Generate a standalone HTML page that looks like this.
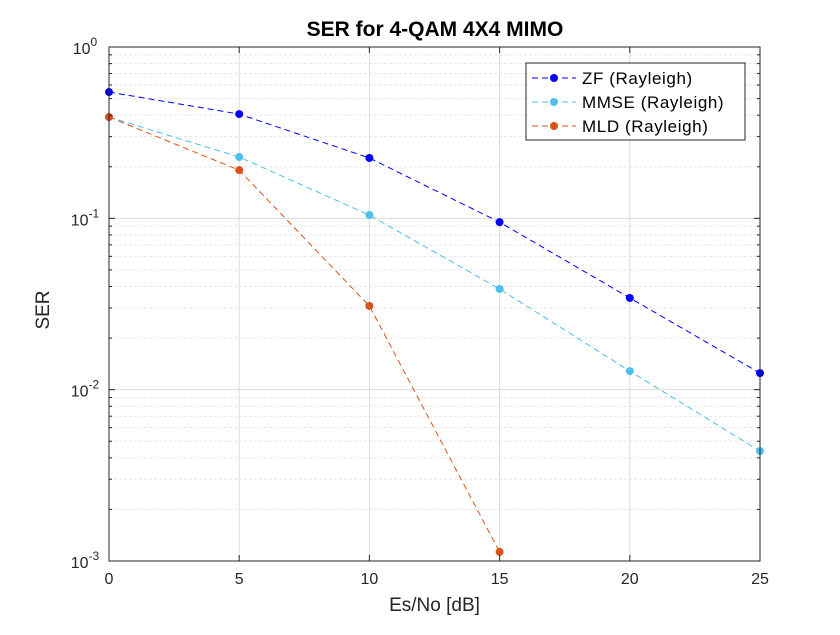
<!DOCTYPE html>
<html><head><meta charset="utf-8"><style>
body{margin:0;background:#fff;}
svg{font-family:"Liberation Sans",Arial,sans-serif;}
</style></head><body>
<svg id="chart" width="840" height="630" xmlns="http://www.w3.org/2000/svg">
<rect width="840" height="630" fill="#fff"/>
<g id="grid"></g>
<g id="series"></g>
<g id="axes"></g>
</svg>
<script>
const xValues=[0,5,10,15,20,25];
const zfValues=[0.546,0.406,0.225,0.095,0.0343,0.0125];
const mmseValues=[0.39,0.228,0.1045,0.0387,0.01284,0.00438];
const mldValues=[0.39,0.191,0.0308,0.00113];
const xTicks=[0,5,10,15,20,25];
const yDecades=[0,-1,-2,-3];
const seriesNames=["ZF (Rayleigh)","MMSE (Rayleigh)","MLD (Rayleigh)"];
const L=109,R=760,T=47,B=561;
const NS="http://www.w3.org/2000/svg";
function X(v){return L+(v-0)/(25-0)*(R-L);}
function Y(v){return T+(0-Math.log10(v))/3*(B-T);}
function mk(tag,attrs,parent,text){const e=document.createElementNS(NS,tag);for(const k in attrs)e.setAttribute(k,attrs[k]);if(text!==undefined)e.textContent=text;parent.appendChild(e);return e;}
const grid=document.getElementById('grid'),ser=document.getElementById('series'),ax=document.getElementById('axes');
mk('rect',{x:L,y:T,width:R-L,height:B-T,fill:'#fff'},grid);
for(let d=-3;d<0;d++){for(let m=2;m<=9;m++){const y=Y(m*Math.pow(10,d));const g=mk('line',{x1:L,x2:R,y1:y,y2:y,stroke:'#e6e6e6','stroke-dasharray':'3,2','stroke-width':1},grid);

}}
yDecades.forEach(d=>{const y=Y(Math.pow(10,d));const g=mk('line',{x1:L,x2:R,y1:y,y2:y,stroke:'#dcdcdc','stroke-width':1},grid);

});
xTicks.forEach(t=>{const x=X(t);const g=mk('line',{x1:x,x2:x,y1:T,y2:B,stroke:'#dcdcdc','stroke-width':1},grid);

});
function drawSeries(vals,color,name){const pts=vals.map((v,i)=>X(xValues[i])+','+Y(v)).join(' ');
const pl=mk('polyline',{points:pts,fill:'none',stroke:color,'stroke-width':1,'stroke-dasharray':'6,4'},ser);


vals.forEach((v,i)=>{const c=mk('circle',{cx:X(xValues[i]),cy:Y(v),r:4,fill:color},ser);

});}
drawSeries(zfValues,'#0000ff','zf');
drawSeries(mmseValues,'#4dbeee','mmse');
drawSeries(mldValues,'#d95319','mld');
const box=mk('rect',{x:L,y:T,width:R-L,height:B-T,fill:'none',stroke:'#262626','stroke-width':1},ax);


xTicks.forEach(t=>{const x=X(t);mk('line',{x1:x,x2:x,y1:B,y2:B-6,stroke:'#262626'},ax);mk('line',{x1:x,x2:x,y1:T,y2:T+6,stroke:'#262626'},ax);
const tx=mk('text',{x:x,y:B+23,'text-anchor':'middle','font-size':16,fill:'#262626'},ax,String(t));

});
yDecades.forEach(d=>{const y=Y(Math.pow(10,d));mk('line',{x1:L,x2:L+6,y1:y,y2:y,stroke:'#262626'},ax);mk('line',{x1:R,x2:R-6,y1:y,y2:y,stroke:'#262626'},ax);
const tx=mk('text',{x:L-24,y:y+7,'text-anchor':'middle','font-size':16,fill:'#262626'},ax);


mk('tspan',{},tx,'10');mk('tspan',{dy:-8,'font-size':12},tx,String(d));});
for(let d=-3;d<0;d++){for(let m=2;m<=9;m++){const y=Y(m*Math.pow(10,d));mk('line',{x1:L,x2:L+3,y1:y,y2:y,stroke:'#262626'},ax);mk('line',{x1:R,x2:R-3,y1:y,y2:y,stroke:'#262626'},ax);}}
const legend=mk('g',{},ax);


mk('rect',{x:526,y:63,width:219,height:77,fill:'#fff',stroke:'#262626'},legend);
const lc=['#0000ff','#4dbeee','#d95319'];
seriesNames.forEach((n,i)=>{const y=78+i*24;mk('line',{x1:532,x2:576,y1:y,y2:y,stroke:lc[i],'stroke-dasharray':'6,4'},legend);mk('circle',{cx:554,cy:y,r:4,fill:lc[i]},legend);
const t=mk('text',{x:582,y:y+6,'font-size':17,'letter-spacing':'0.6',fill:'#000'},legend,n);

});
</script>
<div style="position:absolute;left:0;top:0;width:840px;pointer-events:none">
<div style="position:absolute;left:0;width:870px;top:18px;text-align:center;font:bold 21px 'Liberation Sans',sans-serif;color:#000">SER for 4-QAM 4X4 MIMO</div>
<div style="position:absolute;left:109px;width:651px;top:595px;text-align:center;font:19px 'Liberation Sans',sans-serif;color:#262626">Es/No [dB]</div>
<div style="position:absolute;left:20px;top:310px;transform:translate(-50%,-50%) rotate(-90deg);transform-origin:center;font:19px 'Liberation Sans',sans-serif;color:#262626;margin-left:24px">SER</div>
</div>
</body></html>
